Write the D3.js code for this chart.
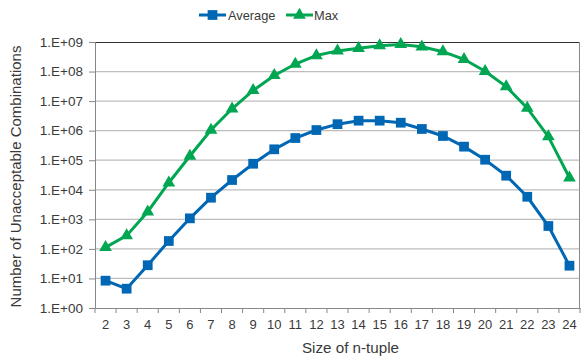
<!DOCTYPE html>
<html><head><meta charset="utf-8">
<script src="https://cdn.jsdelivr.net/npm/d3@7/dist/d3.min.js"></script>
<style>body{margin:0;background:#fff}svg{display:block;font-family:"Liberation Sans",Arial,sans-serif}</style>
</head><body><svg id="c" width="582" height="360"></svg>
<script>
const categories = [2,3,4,5,6,7,8,9,10,11,12,13,14,15,16,17,18,19,20,21,22,23,24];
const averageValues = [8.4,4.5,28,185,1080,5400,21400,76000,234000,563000,1.05e6,1.66e6,2.18e6,2.18e6,1.86e6,1.14e6,660000,288000,104000,30000,5800,595,27];
const maxValues = [113,280,1810,17300,139000,1.05e6,5.5e6,2.3e7,7.4e7,1.8e8,3.5e8,5.0e8,6.1e8,7.5e8,8.3e8,6.9e8,4.7e8,2.6e8,1.02e8,3.1e7,5.8e6,6.26e5,25500];
const yTicks = [1,10,100,1e3,1e4,1e5,1e6,1e7,1e8,1e9];
const yTickLabels = ["1.E+00","1.E+01","1.E+02","1.E+03","1.E+04","1.E+05","1.E+06","1.E+07","1.E+08","1.E+09"];
const seriesNames = ["Average","Max"];

const svg = d3.select("#c");
const L=95,R=580,T=42,B=308;
const x = d3.scaleBand().domain(categories).range([L,R]);
const y = d3.scaleLog().domain([1,1e9]).range([B,T]);
const blue="#0067B4", green="#00A651", txt="#3a3a3a";

// gridlines
svg.append("g").selectAll("line").data(yTicks.slice(1,-1)).join("line")
  .attr("x1",L).attr("x2",R).attr("y1",d=>y(d)).attr("y2",d=>y(d))
  .attr("stroke","#bdbdbd").attr("stroke-width",1.2);
// top & right border
svg.append("line").attr("x1",L).attr("x2",R).attr("y1",T+0.5).attr("y2",T+0.5).attr("stroke","#333");
svg.append("line").attr("x1",R-0.5).attr("x2",R-0.5).attr("y1",T).attr("y2",B).attr("stroke","#888");

// y axis
const yAxis = d3.axisLeft(y).tickValues(yTicks).tickFormat((d,i)=>yTickLabels[i]).tickSize(6).tickPadding(6);
const gy = svg.append("g").attr("transform",`translate(${L},0)`).call(yAxis);
gy.select(".domain").attr("stroke","#888");
gy.selectAll(".tick line").attr("stroke","#888");
gy.selectAll("text").attr("font-size",13.5).attr("fill",txt).attr("font-family","Liberation Sans, Arial, sans-serif");

// x axis
const xAxis = d3.axisBottom(x).tickSize(0).tickPadding(12);
const gx = svg.append("g").attr("transform",`translate(0,${B})`).call(xAxis);
gx.select(".domain").attr("stroke","#888");
gx.selectAll("text").attr("font-size",13).attr("fill",txt).attr("font-family","Liberation Sans, Arial, sans-serif");
// category boundary ticks
const bounds = categories.map(c=>x(c)).concat([R]);
svg.append("g").selectAll("line").data(bounds).join("line")
  .attr("x1",d=>d).attr("x2",d=>d).attr("y1",B).attr("y2",B+5).attr("stroke","#888");

const cx = c => x(c)+x.bandwidth()/2;
const line = d3.line().x((d,i)=>cx(categories[i])).y(d=>y(d));

// series
svg.append("path").datum(averageValues).attr("d",line).attr("fill","none").attr("stroke",blue).attr("stroke-width",3);
svg.append("path").datum(maxValues).attr("d",line).attr("fill","none").attr("stroke",green).attr("stroke-width",3);
const sq = d3.symbol().type(d3.symbolSquare).size(95);
const tri = d3.symbol().type(d3.symbolTriangle).size(70);
svg.append("g").selectAll("path").data(averageValues).join("path")
  .attr("d",sq).attr("transform",(d,i)=>`translate(${cx(categories[i])},${y(d)})`).attr("fill",blue);
svg.append("g").selectAll("path").data(maxValues).join("path")
  .attr("d",tri).attr("transform",(d,i)=>`translate(${cx(categories[i])},${y(d)})`).attr("fill",green);

// legend
const lg = svg.append("g");
lg.append("line").attr("x1",199).attr("x2",226).attr("y1",15).attr("y2",15).attr("stroke",blue).attr("stroke-width",3);
lg.append("path").attr("d",sq).attr("transform","translate(212.5,15)").attr("fill",blue);
lg.append("text").attr("x",228).attr("y",19.5).text(seriesNames[0]).attr("font-size",12.8).attr("fill",txt);
lg.append("line").attr("x1",286).attr("x2",313).attr("y1",15).attr("y2",15).attr("stroke",green).attr("stroke-width",3);
lg.append("path").attr("d",tri).attr("transform","translate(299.5,15)").attr("fill",green);
lg.append("text").attr("x",314).attr("y",19.5).text(seriesNames[1]).attr("font-size",12.8).attr("fill",txt);

// titles
svg.append("text").attr("x",350.5).attr("y",353).attr("text-anchor","middle").attr("font-size",15.2).attr("fill",txt).text("Size of n-tuple");
svg.append("text").attr("transform",`translate(21,176.5) rotate(-90)`).attr("text-anchor","middle").attr("font-size",15).attr("fill",txt).text("Number of Unacceptable Combinations");
</script></body></html>
